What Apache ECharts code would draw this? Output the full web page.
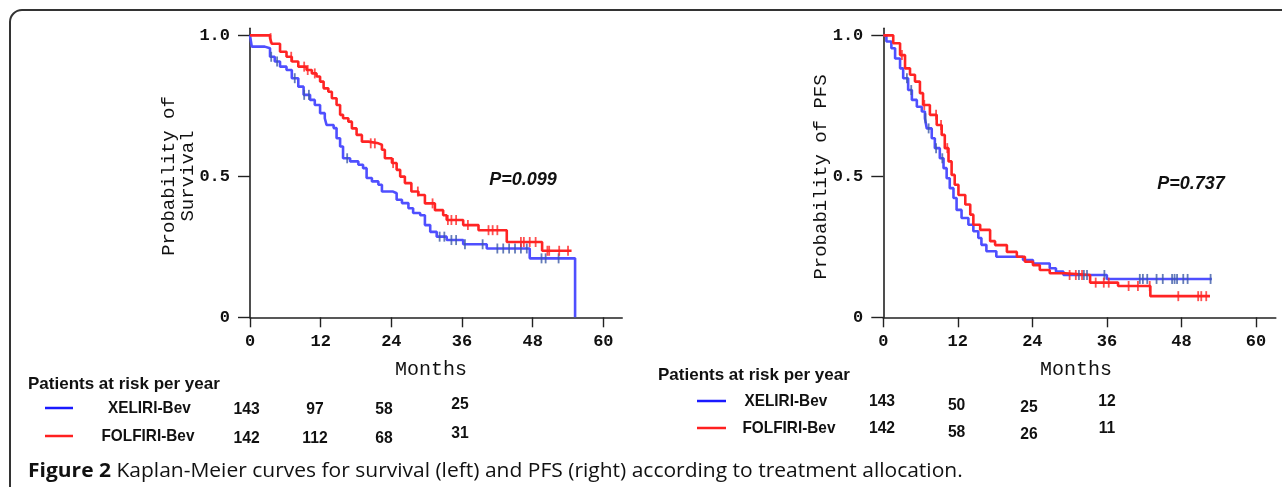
<!DOCTYPE html>
<html>
<head>
<meta charset="utf-8">
<script src="https://cdn.jsdelivr.net/npm/echarts@6/dist/echarts.min.js"></script>
<style>
html,body{margin:0;padding:0;background:#fff;}
#chart{width:1282px;height:487px;}
</style>
</head>
<body>
<div id="chart"></div>
<script>
// ---------- DATA ----------
const xTicks = [0, 12, 24, 36, 48, 60];
const yTicks = [0, 0.5, 1.0];

// Overall survival (left)
const osXelT = [0, 0.3, 2.5, 3.4, 4.2, 5.1, 6.2, 7.1, 8.2, 9.1, 10.2, 11.0, 11.9, 12.7, 13.0, 14.2, 14.7, 15.3, 15.8, 17.0, 18.4, 19.2, 19.8, 20.7, 21.8, 22.4, 24.3, 24.9, 25.8, 26.9, 27.7, 28.9, 29.7, 30.6, 31.7, 33.4, 36.2, 40.2, 47.5, 55.2];
const osXelS = [1, 0.96, 0.954, 0.924, 0.907, 0.889, 0.877, 0.848, 0.818, 0.789, 0.771, 0.753, 0.724, 0.706, 0.682, 0.671, 0.635, 0.606, 0.564, 0.553, 0.541, 0.529, 0.494, 0.482, 0.47, 0.446, 0.44, 0.417, 0.405, 0.387, 0.37, 0.362, 0.327, 0.303, 0.286, 0.274, 0.259, 0.244, 0.209, 0];
const osFolT = [0, 3.4, 3.7, 5.1, 6.2, 7.1, 8.2, 9.6, 10.5, 11.3, 11.9, 12.5, 13.3, 13.9, 14.7, 15.3, 15.8, 16.7, 17.3, 18.1, 19.0, 20.1, 21.8, 22.4, 22.9, 24.1, 24.9, 25.5, 26.3, 27.4, 28.6, 29.7, 31.4, 32.8, 33.4, 36.2, 38.8, 43.6, 49.6, 54.6];
const osFolS = [1, 0.99, 0.97, 0.942, 0.924, 0.907, 0.889, 0.877, 0.865, 0.854, 0.836, 0.812, 0.8, 0.777, 0.753, 0.718, 0.706, 0.694, 0.67, 0.647, 0.623, 0.617, 0.612, 0.594, 0.564, 0.547, 0.523, 0.499, 0.476, 0.446, 0.434, 0.404, 0.38, 0.362, 0.345, 0.327, 0.309, 0.267, 0.236, 0.236];
const osXelCens = [3.6, 4.6, 7.6, 9.2, 10.0, 16.5, 32.2, 33.0, 34.2, 35.0, 36.5, 39.5, 42.0, 43.0, 44.0, 45.0, 46.0, 47.0, 49.5, 50.2, 52.4];
const osFolCens = [3.5, 7.0, 9.2, 9.8, 11.0, 20.5, 21.2, 24.3, 28.5, 31.0, 33.6, 34.2, 35.0, 37.0, 40.5, 41.2, 42.0, 46.0, 46.5, 47.5, 48.5, 50.5, 50.8, 52.5, 54.0];

// Progression-free survival (right)
const pfsXelT = [0, 0.5, 1.3, 1.9, 2.7, 3.2, 4.0, 4.6, 5.4, 6.2, 6.7, 7.0, 7.8, 8.3, 9.1, 9.7, 10.2, 10.7, 11.3, 11.8, 12.6, 13.7, 14.5, 15.3, 15.8, 16.6, 18.2, 22.5, 24.1, 26.8, 27.8, 29.0, 36.0, 52.9];
const pfsXelS = [1, 0.978, 0.954, 0.918, 0.883, 0.848, 0.806, 0.771, 0.747, 0.73, 0.706, 0.67, 0.635, 0.6, 0.564, 0.529, 0.493, 0.458, 0.423, 0.381, 0.352, 0.328, 0.305, 0.281, 0.257, 0.234, 0.215, 0.203, 0.191, 0.174, 0.162, 0.15, 0.136, 0.136];
const pfsFolT = [0, 1.6, 2.7, 3.5, 4.3, 5.1, 5.9, 6.4, 7.5, 8.6, 9.4, 9.9, 10.5, 11.0, 11.5, 12.1, 13.2, 14.0, 14.5, 15.6, 17.2, 18.0, 19.9, 21.5, 22.8, 24.1, 25.2, 26.8, 29.3, 33.3, 37.8, 43.0, 52.6];
const pfsFolS = [1, 0.972, 0.93, 0.883, 0.86, 0.836, 0.795, 0.753, 0.718, 0.682, 0.647, 0.6, 0.553, 0.505, 0.47, 0.434, 0.4, 0.364, 0.328, 0.31, 0.27, 0.256, 0.232, 0.215, 0.197, 0.185, 0.168, 0.156, 0.15, 0.123, 0.111, 0.075, 0.075];
const pfsXelCens = [3.8, 4.5, 6.8, 7.3, 8.5, 9.5, 31.5, 32.3, 32.8, 35.6, 41.3, 41.8, 42.5, 44.0, 45.0, 46.5, 46.9, 47.3, 48.3, 49.0, 52.7];
const pfsFolCens = [3.0, 6.6, 8.5, 9.3, 10.3, 30.0, 31.0, 32.0, 34.2, 35.5, 36.3, 39.5, 41.0, 42.9, 47.5, 50.7, 51.2, 52.0];

// Patients at risk
const armNames = ['XELIRI-Bev', 'FOLFIRI-Bev'];
const osRiskXel = [143, 97, 58, 25];
const osRiskFol = [142, 112, 68, 31];
const pfsRiskXel = [143, 50, 25, 12];
const pfsRiskFol = [142, 58, 26, 11];
const pValues = ['P=0.099', 'P=0.737'];
const yNames = ['Probability of\nSurvival', 'Probability of PFS'];
const xName = 'Months';
const riskTitle = 'Patients at risk per year';
const captionBold = 'Figure 2';
const captionText = ' Kaplan-Meier curves for survival (left) and PFS (right) according to treatment allocation.';

// ---------- STYLE ----------
const BLUE = '#4f4fff';
const RED = '#ff2424';
const BLUE_C = '#3c5aa8';
const AX = '#222';
const MONO = '"Liberation Mono", "DejaVu Sans Mono", monospace';
const SANS = '"Liberation Sans", Arial, sans-serif';

function pairs(T, S) { return T.map((t, i) => [t, S[i]]); }
function stepAt(t, T, S) { let v = S[0]; for (let i = 0; i < T.length; i++) { if (T[i] <= t) v = S[i]; } return v; }
function cens(C, T, S) { return C.map(t => [t, stepAt(t, T, S)]); }

const tickSym = 'path://M0,0L2,0L2,10L0,10Z';

function xAxis(gi) {
  return {
    type: 'value', gridIndex: gi, min: 0, max: 63.2,
    axisLine: { show: true, onZero: false, lineStyle: { color: AX, width: 1.6 } },
    axisTick: { show: true, length: 10, customValues: xTicks, lineStyle: { color: AX, width: 1.4 } },
    axisLabel: { customValues: xTicks, margin: 16, color: '#111', fontFamily: MONO, fontWeight: 'bold', fontSize: 17 },
    splitLine: { show: false }
  };
}
function yAxis(gi) {
  return {
    type: 'value', gridIndex: gi, min: 0, max: 1.025,
    axisLine: { show: true, onZero: false, lineStyle: { color: AX, width: 1.6 } },
    axisTick: { show: true, length: 12, customValues: yTicks, lineStyle: { color: AX, width: 1.4 } },
    axisLabel: { customValues: yTicks, margin: 20, color: '#111', fontFamily: MONO, fontWeight: 'bold', fontSize: 17,
      formatter: v => (v === 0 ? '0' : v.toFixed(1)) },
    splitLine: { show: false }
  };
}
function km(gi, T, S, color) {
  return { type: 'line', xAxisIndex: gi, yAxisIndex: gi, step: 'end', data: pairs(T, S), showSymbol: false,
    lineStyle: { color: color, width: 2.6 }, silent: true, animation: false, z: 2 };
}
function censSeries(gi, C, T, S, color) {
  return { type: 'scatter', xAxisIndex: gi, yAxisIndex: gi, data: cens(C, T, S), symbol: tickSym,
    symbolSize: [1.8, 10], itemStyle: { color: color }, silent: true, animation: false, z: 3 };
}

// ---------- GRAPHIC TEXT ----------
const g = [];
g.push({ type: 'rect', shape: { x: 10, y: 10, width: 1300, height: 520, r: 12 },
  style: { fill: 'none', stroke: '#333', lineWidth: 2 }, silent: true });

function txt(x, y, text, font, extra) {
  return Object.assign({ type: 'text', x: x, y: y, style: { text: text, fill: '#111', font: font,
    textAlign: 'center', textVerticalAlign: 'middle' } }, extra || {});
}
// y-axis names
g.push({ type: 'text', x: 178.5, y: 176, rotation: Math.PI / 2,
  style: { text: yNames[0], font: '19px ' + MONO, fill: '#111', textAlign: 'center', textVerticalAlign: 'middle', lineHeight: 19 } });
g.push({ type: 'text', x: 821, y: 177, rotation: Math.PI / 2,
  style: { text: yNames[1], font: '19px ' + MONO, fill: '#111', textAlign: 'center', textVerticalAlign: 'middle' } });
// x-axis names
g.push(txt(431, 370, xName, '20px ' + MONO));
g.push(txt(1076, 370, xName, '20px ' + MONO));
// p-values
g.push(txt(523, 180, pValues[0], 'italic bold 18px ' + SANS));
g.push(txt(1191, 184.5, pValues[1], 'italic bold 18px ' + SANS));

// risk tables
const titleFont = 'bold 17px ' + SANS;
const tableFont = 'bold 16.5px ' + SANS;
function riskTable(cfg) {
  g.push({ type: 'text', x: cfg.titleX, y: cfg.titleY,
    style: { text: riskTitle, font: titleFont, fill: '#111', textAlign: 'left', textVerticalAlign: 'middle' } });
  const rows = [cfg.xel, cfg.fol];
  const colors = ['#1a1aff', '#ff2020'];
  rows.forEach((vals, r) => {
    const y = cfg.rowY[r];
    g.push({ type: 'line', shape: { x1: cfg.lineX[0], y1: y, x2: cfg.lineX[1], y2: y }, style: { stroke: colors[r], lineWidth: 2.5 } });
    g.push({ type: 'text', x: cfg.nameX[r], y: y, scaleX: 0.93,
      style: { text: armNames[r], font: tableFont, fill: '#111', textAlign: 'left', textVerticalAlign: 'middle' } });
    vals.forEach((v, c) => {
      g.push(txt(cfg.colX[c], y + cfg.colDy[r][c], String(v), tableFont, { scaleX: 0.95 }));
    });
  });
}
riskTable({ titleX: 28, titleY: 384, xel: osRiskXel, fol: osRiskFol, rowY: [408, 436], lineX: [45, 73], nameX: [108, 101.5],
  colX: [246.7, 315, 384, 460], colDy: [[1, 1, 1, -3.5], [2, 2, 2, -3]] });
riskTable({ titleX: 658, titleY: 375, xel: pfsRiskXel, fol: pfsRiskFol, rowY: [401, 428], lineX: [697, 726], nameX: [744.5, 742.5],
  colX: [882, 956.6, 1029, 1107], colDy: [[0, 4, 6, 0], [0, 4, 6, 0]] });

// caption
g.push({ type: 'text', x: 28, y: 471, scaleX: 1.05, style: {
  text: '{b|' + captionBold + '}{n|' + captionText + '}', textAlign: 'left', textVerticalAlign: 'middle',
  rich: { b: { font: 'bold 20px "Open Sans", "Noto Sans", sans-serif', fill: '#111' },
          n: { font: '20px "Open Sans", "Noto Sans", sans-serif', fill: '#111' } } } });

// ---------- CHART ----------
const chart = echarts.init(document.getElementById('chart'), null, { renderer: 'canvas' });
chart.setOption({
  backgroundColor: '#fff',
  animation: false,
  grid: [
    { left: 250, top: 28.3, width: 372.2, height: 289 },
    { left: 883.3, top: 28.3, width: 392.5, height: 289 }
  ],
  xAxis: [xAxis(0), xAxis(1)],
  yAxis: [yAxis(0), yAxis(1)],
  series: [
    km(0, osXelT, osXelS, BLUE),
    km(0, osFolT, osFolS, RED),
    censSeries(0, osXelCens, osXelT, osXelS, BLUE_C),
    censSeries(0, osFolCens, osFolT, osFolS, RED),
    km(1, pfsXelT, pfsXelS, BLUE),
    km(1, pfsFolT, pfsFolS, RED),
    censSeries(1, pfsXelCens, pfsXelT, pfsXelS, BLUE_C),
    censSeries(1, pfsFolCens, pfsFolT, pfsFolS, RED)
  ],
  graphic: g
});
</script>
</body>
</html>
